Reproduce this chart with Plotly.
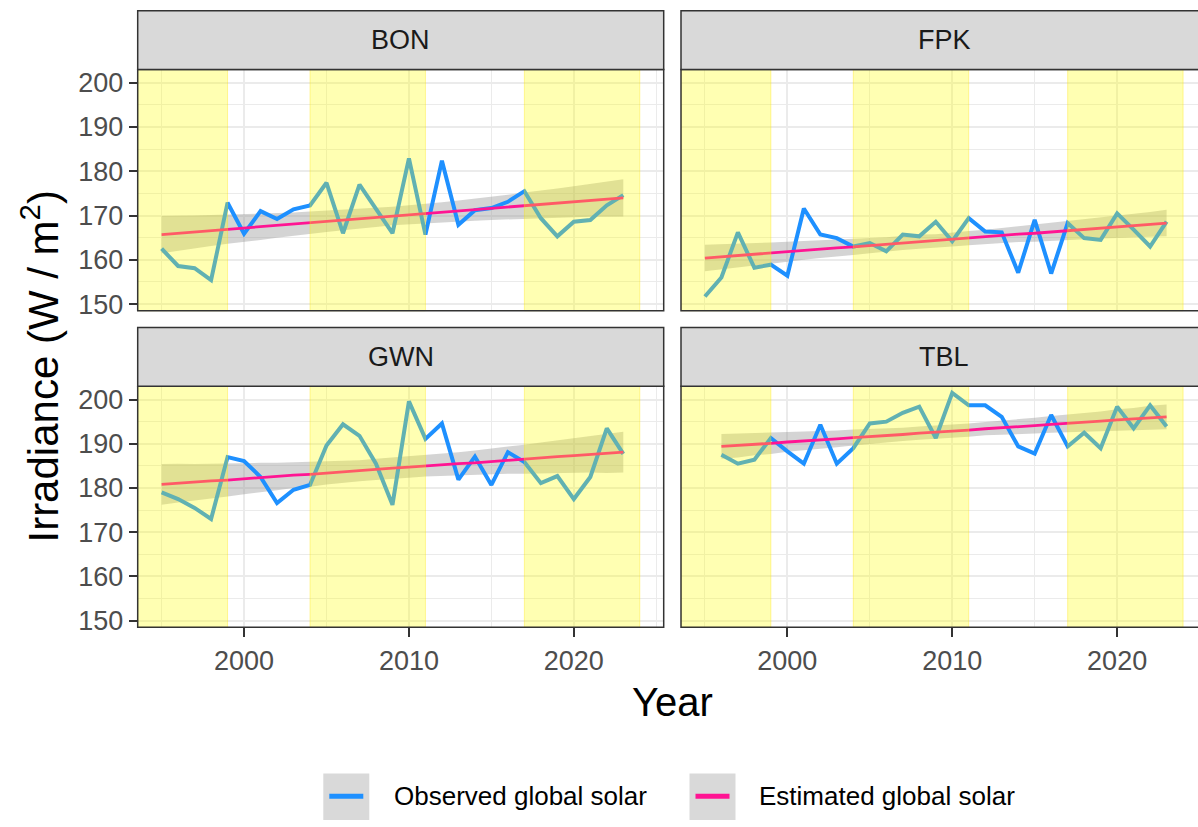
import plotly.graph_objects as go

W, H = 1198, 827
FONT = "Liberation Sans, Arial, sans-serif"

# ---------------- data ----------------
years_full = list(range(1995, 2024))
years_tbl = list(range(1996, 2024))

bon_obs = [162.5, 158.6, 158.1, 155.4, 172.9, 165.9, 171.0, 169.2, 171.4, 172.3,
           177.4, 166.0, 177.0, 171.6, 166.0, 182.9, 165.7, 182.4, 167.9, 171.2,
           171.7, 173.1, 175.5, 169.4, 165.3, 168.6, 169.0, 172.3, 174.6]
bon_est = [165.7, 166.0, 166.3, 166.6, 166.9, 167.2, 167.5, 167.8, 168.1, 168.4,
           168.7, 169.0, 169.3, 169.6, 169.9, 170.1, 170.4, 170.7, 171.0, 171.3,
           171.6, 171.9, 172.2, 172.5, 172.8, 173.1, 173.4, 173.7, 174.0]
bon_ci = [4.2, 3.9, 3.7, 3.5, 3.3, 3.1, 3.0, 2.8, 2.6, 2.5, 2.4, 2.3, 2.2, 2.2, 2.1,
          2.2, 2.2, 2.3, 2.4, 2.5, 2.6, 2.8, 3.0, 3.1, 3.3, 3.5, 3.7, 3.9, 4.2]

fpk_obs = [151.7, 156.0, 166.2, 158.2, 158.9, 156.4, 171.6, 165.7, 164.9, 163.0,
           163.8, 161.9, 165.7, 165.3, 168.6, 164.2, 169.4, 166.4, 166.2, 157.1,
           169.0, 156.9, 168.3, 164.9, 164.5, 170.5, 166.8, 163.0, 168.6]
fpk_est = [160.4, 160.7, 161.0, 161.2, 161.5, 161.8, 162.1, 162.4, 162.7, 162.9,
           163.2, 163.5, 163.8, 164.1, 164.3, 164.6, 164.9, 165.2, 165.5, 165.8,
           166.0, 166.3, 166.6, 166.9, 167.2, 167.4, 167.7, 168.0, 168.3]
fpk_ci = [3.0, 2.8, 2.7, 2.5, 2.4, 2.3, 2.1, 2.0, 1.9, 1.8, 1.7, 1.6, 1.6, 1.6, 1.5,
          1.6, 1.6, 1.6, 1.7, 1.8, 1.9, 2.0, 2.1, 2.3, 2.4, 2.5, 2.7, 2.8, 3.0]

gwn_obs = [179.0, 177.5, 175.5, 173.0, 187.0, 186.1, 182.5, 176.6, 179.6, 180.7,
           189.6, 194.4, 191.8, 185.5, 176.2, 199.6, 191.1, 194.6, 181.9, 187.1,
           180.7, 188.1, 185.9, 181.1, 182.7, 177.5, 182.5, 193.5, 187.7]
gwn_est = [180.8, 181.1, 181.3, 181.6, 181.8, 182.1, 182.4, 182.6, 182.9, 183.1,
           183.4, 183.7, 183.9, 184.2, 184.5, 184.7, 185.0, 185.2, 185.5, 185.7,
           186.0, 186.3, 186.5, 186.8, 187.1, 187.3, 187.6, 187.8, 188.1]
gwn_ci = [4.6, 4.4, 4.1, 3.9, 3.7, 3.5, 3.3, 3.1, 2.9, 2.8, 2.6, 2.5, 2.4, 2.4, 2.4,
          2.4, 2.4, 2.5, 2.6, 2.8, 2.9, 3.1, 3.3, 3.5, 3.7, 3.9, 4.1, 4.4, 4.6]

tbl_obs = [187.5, 185.5, 186.4, 191.3, 188.3, 185.5, 194.3, 185.5, 189.0, 194.6,
           195.0, 197.0, 198.4, 191.3, 201.5, 198.7, 198.7, 196.1, 189.4, 187.8,
           196.5, 189.4, 192.5, 189.0, 198.4, 193.5, 198.7, 193.9]
tbl_est = [189.4, 189.6, 189.9, 190.1, 190.4, 190.6, 190.9, 191.1, 191.4, 191.6,
           191.9, 192.1, 192.4, 192.6, 192.9, 193.1, 193.4, 193.6, 193.9, 194.1,
           194.4, 194.6, 194.9, 195.1, 195.4, 195.6, 195.9, 196.1]
tbl_ci = [2.8, 2.7, 2.5, 2.4, 2.2, 2.1, 2.0, 1.9, 1.8, 1.7, 1.6, 1.5, 1.5, 1.5,
          1.5, 1.5, 1.5, 1.6, 1.7, 1.8, 1.9, 2.0, 2.1, 2.2, 2.4, 2.5, 2.7, 2.8]

stations = ["BON", "FPK", "GWN", "TBL"]
station_years = {"BON": years_full, "FPK": years_full, "GWN": years_full, "TBL": years_tbl}
station_obs = {"BON": bon_obs, "FPK": fpk_obs, "GWN": gwn_obs, "TBL": tbl_obs}
station_est = {"BON": bon_est, "FPK": fpk_est, "GWN": gwn_est, "TBL": tbl_est}
station_ci = {"BON": bon_ci, "FPK": fpk_ci, "GWN": gwn_ci, "TBL": tbl_ci}

# shaded periods (None = from the axis start)
shade_start = [None, 2004, 2017]
shade_end = [1999, 2011, 2024]

x_ticks = [2000, 2010, 2020]
y_ticks = [150, 160, 170, 180, 190, 200]
legend_labels = ["Observed global solar", "Estimated global solar"]

# ---------------- styling / layout ----------------
OBS_COLOR = "#1E90FF"
EST_COLOR = "#FF1493"
RIBBON = "rgba(153,153,153,0.42)"
SHADE = "rgba(255,255,0,0.30)"
SHADE_EDGE = "rgba(255,225,0,0.35)"
GRID = "#EBEBEB"
BORDER = "#333333"

X0, X1 = 1993.55, 2025.45
Y_RANGE = [148.5, 203.0]
LEFT = (137.7, 663.7)
RIGHT_L = 681.0
PX_PER_YEAR = (LEFT[1] - LEFT[0]) / (X1 - X0)
RIGHT_FULL_R = RIGHT_L + (LEFT[1] - LEFT[0])
TOP_ROW = (69.3, 313.5)
BOT_ROW = (390.0, 634.0)
STRIP_H = 59.5


def px(x):
    return x / W


def py(y):
    return 1 - y / H


panel_geom = {
    "BON": (LEFT[0], LEFT[1], TOP_ROW),
    "FPK": (RIGHT_L, W, TOP_ROW),
    "GWN": (LEFT[0], LEFT[1], BOT_ROW),
    "TBL": (RIGHT_L, W, BOT_ROW),
}

fig = go.Figure()
shapes = []
annotations = []
layout_axes = {}

for i, st in enumerate(stations):
    idx = i + 1
    xa = "x" if idx == 1 else f"x{idx}"
    ya = "y" if idx == 1 else f"y{idx}"
    xl, xr, (yt, yb) = panel_geom[st]
    xmax = X0 + (xr - xl) / PX_PER_YEAR
    bottom = st in ("GWN", "TBL")
    left = st in ("BON", "GWN")

    yrs = station_years[st]
    est = station_est[st]
    ci = station_ci[st]
    upper = [e + c for e, c in zip(est, ci)]
    lower = [e - c for e, c in zip(est, ci)]

    fig.add_trace(go.Scatter(
        x=yrs + yrs[::-1], y=upper + lower[::-1], fill="toself",
        fillcolor=RIBBON, line=dict(width=0), mode="lines",
        hoverinfo="skip", showlegend=False, xaxis=xa, yaxis=ya))
    fig.add_trace(go.Scatter(
        x=yrs, y=station_obs[st], mode="lines", name=legend_labels[0],
        line=dict(color=OBS_COLOR, width=4), showlegend=False,
        xaxis=xa, yaxis=ya))
    fig.add_trace(go.Scatter(
        x=yrs, y=est, mode="lines", name=legend_labels[1],
        line=dict(color=EST_COLOR, width=2.8), showlegend=False,
        xaxis=xa, yaxis=ya))

    layout_axes["xaxis" if idx == 1 else f"xaxis{idx}"] = dict(
        domain=[px(xl), px(xr)], range=[X0, xmax], anchor=ya,
        tickmode="array", tickvals=x_ticks, ticktext=[str(t) for t in x_ticks],
        showticklabels=bottom, ticks="outside" if bottom else "",
        ticklen=9, tickwidth=1.5, tickcolor=BORDER,
        tickfont=dict(family=FONT, size=27, color="#4D4D4D"),
        showgrid=True, gridcolor=GRID, gridwidth=1.6,
        minor=dict(tickmode="array", tickvals=[1995, 2005, 2015, 2025],
                   showgrid=True, gridcolor=GRID, gridwidth=0.8, ticks=""),
        showline=False, zeroline=False, fixedrange=True,
    )
    layout_axes["yaxis" if idx == 1 else f"yaxis{idx}"] = dict(
        domain=[py(yb), py(yt)], range=Y_RANGE, anchor=xa,
        tickmode="array", tickvals=y_ticks, ticktext=[str(t) for t in y_ticks],
        showticklabels=left, ticks="outside" if left else "",
        ticklen=8, tickwidth=1.5, tickcolor=BORDER,
        tickfont=dict(family=FONT, size=27, color="#4D4D4D"),
        showgrid=True, gridcolor=GRID, gridwidth=1.6,
        minor=dict(tickmode="array", tickvals=[155, 165, 175, 185, 195],
                   showgrid=True, gridcolor=GRID, gridwidth=0.8, ticks=""),
        showline=False, zeroline=False, fixedrange=True,
    )

    # shaded periods (drawn over the data, as in the reference)
    for s0, s1 in zip(shade_start, shade_end):
        shapes.append(dict(
            type="rect", xref=xa, yref=f"{ya} domain",
            x0=X0 if s0 is None else s0, x1=s1, y0=0, y1=1,
            fillcolor=SHADE, line=dict(color=SHADE_EDGE, width=1), layer="above"))

    # panel border
    xr_border = xl + (LEFT[1] - LEFT[0])
    shapes.append(dict(type="rect", xref="paper", yref="paper",
                       x0=px(xl), x1=px(xr_border), y0=py(yb), y1=py(yt),
                       line=dict(color=BORDER, width=1.5), fillcolor="rgba(0,0,0,0)",
                       layer="above"))
    # strip
    shapes.append(dict(type="rect", xref="paper", yref="paper",
                       x0=px(xl), x1=px(xr_border), y0=py(yt), y1=py(yt - STRIP_H),
                       line=dict(color=BORDER, width=1.5), fillcolor="#D9D9D9",
                       layer="above"))
    annotations.append(dict(
        text=st, xref="paper", yref="paper",
        x=px((xl + xr_border) / 2), y=py(yt - STRIP_H / 2),
        xanchor="center", yanchor="middle", showarrow=False,
        font=dict(family=FONT, size=27, color="#1A1A1A")))

# axis titles
annotations.append(dict(
    text="Year", xref="paper", yref="paper", x=px((LEFT[0] + RIGHT_FULL_R) / 2), y=py(710),
    xanchor="center", yanchor="middle", showarrow=False,
    font=dict(family=FONT, size=40, color="#000000")))
annotations.append(dict(
    text="Irradiance (W / m<sup>2</sup>)", xref="paper", yref="paper",
    x=px(40), y=py(370), textangle=-90,
    xanchor="center", yanchor="middle", showarrow=False,
    font=dict(family=FONT, size=42, color="#000000")))

# legend (ggplot-style keys with grey background)
legend_items = [
    (legend_labels[0], OBS_COLOR, 323.3, 391.7),
    (legend_labels[1], EST_COLOR, 689.5, 757.0),
]
for label, color, kx, tx in legend_items:
    shapes.append(dict(type="rect", xref="paper", yref="paper",
                       x0=px(kx), x1=px(kx + 46), y0=py(829), y1=py(782),
                       fillcolor="#D9D9D9", line=dict(width=0), layer="above"))
    shapes.append(dict(type="line", xref="paper", yref="paper",
                       x0=px(kx + 6), x1=px(kx + 40), y0=py(805), y1=py(805),
                       line=dict(color=color, width=5), layer="above"))
    annotations.append(dict(
        text=label, xref="paper", yref="paper", x=px(tx), y=py(805),
        xanchor="left", yanchor="middle", showarrow=False,
        font=dict(family=FONT, size=26, color="#000000")))

fig.update_layout(
    width=W, height=H, autosize=False,
    margin=dict(l=0, r=0, t=0, b=0),
    paper_bgcolor="white", plot_bgcolor="white",
    showlegend=False,
    shapes=shapes, annotations=annotations,
    **layout_axes,
)

fig.write_html("out.html",
               config={"displayModeBar": False},
               post_script="document.body.style.margin='0';document.body.style.overflow='hidden';")
